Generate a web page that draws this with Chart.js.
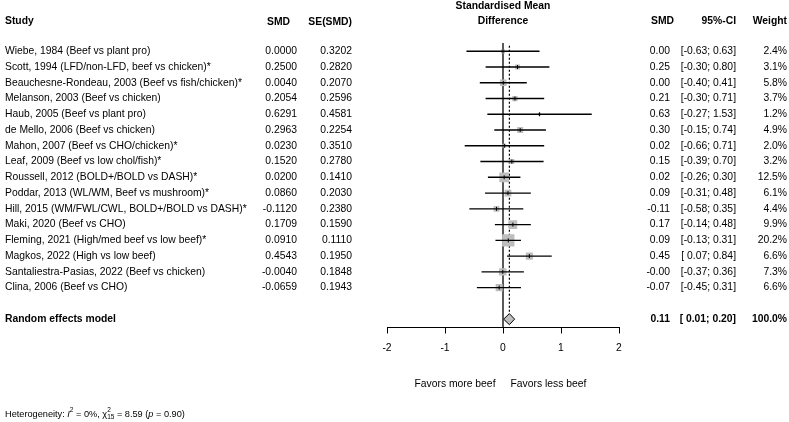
<!DOCTYPE html>
<html>
<head>
<meta charset="utf-8">
<script src="https://cdn.jsdelivr.net/npm/chart.js@4/dist/chart.umd.min.js"></script>
<style>
  html, body { margin: 0; padding: 0; background: #fff; }
  canvas { display: block; }
</style>
</head>
<body>
<canvas id="forest" width="789" height="422" style="width:789px;height:422px"></canvas>
<script>
// study data
const studies = [
  "Wiebe, 1984 (Beef vs plant pro)",
  "Scott, 1994 (LFD/non-LFD, beef vs chicken)*",
  "Beauchesne-Rondeau, 2003 (Beef vs fish/chicken)*",
  "Melanson, 2003 (Beef vs chicken)",
  "Haub, 2005 (Beef vs plant pro)",
  "de Mello, 2006 (Beef vs chicken)",
  "Mahon, 2007 (Beef vs CHO/chicken)*",
  "Leaf, 2009 (Beef vs low chol/fish)*",
  "Roussell, 2012 (BOLD+/BOLD vs DASH)*",
  "Poddar, 2013 (WL/WM, Beef vs mushroom)*",
  "Hill, 2015 (WM/FWL/CWL, BOLD+/BOLD vs DASH)*",
  "Maki, 2020 (Beef vs CHO)",
  "Fleming, 2021 (High/med beef vs low beef)*",
  "Magkos, 2022 (High vs low beef)",
  "Santaliestra-Pasias, 2022 (Beef vs chicken)",
  "Clina, 2006 (Beef vs CHO)"
];
const smd = [0.0000, 0.2500, 0.0040, 0.2054, 0.6291, 0.2963, 0.0230, 0.1520,
             0.0200, 0.0860, -0.1120, 0.1709, 0.0910, 0.4543, -0.0040, -0.0659];
const seSmd = [0.3202, 0.2820, 0.2070, 0.2596, 0.4581, 0.2254, 0.3510, 0.2780,
               0.1410, 0.2030, 0.2380, 0.1590, 0.1110, 0.1950, 0.1848, 0.1943];
const ciLower = [-0.63, -0.30, -0.40, -0.30, -0.27, -0.15, -0.66, -0.39,
                 -0.26, -0.31, -0.58, -0.14, -0.13, 0.07, -0.37, -0.45];
const ciUpper = [0.63, 0.80, 0.41, 0.71, 1.53, 0.74, 0.71, 0.70,
                 0.30, 0.48, 0.35, 0.48, 0.31, 0.84, 0.36, 0.31];
const weights = [2.4, 3.1, 5.8, 3.7, 1.2, 4.9, 2.0, 3.2,
                 12.5, 6.1, 4.4, 9.9, 20.2, 6.6, 7.3, 6.6];

const pooledLabel = "Random effects model";
const pooledSmd = 0.11;
const pooledLower = 0.01;
const pooledUpper = 0.20;
const pooledWeight = 100.0;

const xTicks = [-2, -1, 0, 1, 2];
const favorLabels = ["Favors more beef", "Favors less beef"];

const rows = studies.map((s, i) => i + 1);
const pooledRow = studies.length + 2;

const FONT = "'Liberation Sans', Arial, sans-serif";
const FS = 10.35;

const fmtCI = (lo, hi) => "[" + (lo >= 0 ? " " : "") + lo.toFixed(2) + "; " + hi.toFixed(2) + "]";

// one line per confidence interval
const ciSets = studies.map((s, i) => ({
  data: [{ x: ciLower[i], y: rows[i] }, { x: ciUpper[i], y: rows[i] }],
  showLine: true,
  borderColor: "#000",
  borderWidth: 1.4,
  pointRadius: 0,
  order: 1
}));

const datasets = [
  ...ciSets,
  {
    // point estimate tick
    data: smd.map((v, i) => ({ x: v, y: rows[i] })),
    pointStyle: "line",
    rotation: 90,
    pointRadius: 2,
    borderColor: "#000",
    borderWidth: 1,
    order: 0
  },
  {
    // weighted squares
    data: smd.map((v, i) => ({ x: v, y: rows[i] })),
    pointStyle: "rect",
    pointRadius: weights.map(w => 1.94 * Math.sqrt(w)),
    backgroundColor: "#bebebe",
    borderWidth: 0,
    order: 2
  },
  {
    // line of no effect
    data: [{ x: 0, y: 0.48 }, { x: 0, y: 18.53 }],
    showLine: true,
    borderColor: "#000",
    borderWidth: 1.3,
    pointRadius: 0,
    order: 3
  },
  {
    // pooled estimate, dotted
    data: [{ x: pooledSmd, y: 0.65 }, { x: pooledSmd, y: pooledRow - 0.35 }],
    showLine: true,
    borderColor: "#000",
    borderWidth: 1.2,
    borderDash: [2, 2],
    pointRadius: 0,
    order: 3
  },
  {
    // pooled diamond
    data: [
      { x: pooledLower, y: pooledRow },
      { x: pooledSmd, y: pooledRow - 0.35 },
      { x: pooledUpper, y: pooledRow },
      { x: pooledSmd, y: pooledRow + 0.35 },
      { x: pooledLower, y: pooledRow }
    ],
    showLine: true,
    fill: "shape",
    backgroundColor: "#bebebe",
    borderColor: "#000",
    borderWidth: 1,
    pointRadius: 0,
    tension: 0,
    order: 0
  }
];

const tablePlugin = {
  id: "table",
  afterDraw(chart) {
    const { ctx, scales: { x, y } } = chart;
    ctx.save();
    ctx.fillStyle = "#000";
    ctx.textBaseline = "middle";
    const txt = (s, px, py, align, bold, size) => {
      ctx.font = (bold ? "bold " : "") + (size || FS) + "px " + FONT;
      ctx.textAlign = align || "left";
      ctx.fillText(s, px, py);
    };

    // headers
    txt("Standardised Mean", x.getPixelForValue(0), 6, "center", true);
    txt("Difference", x.getPixelForValue(0), 21, "center", true);
    txt("Study", 5, 21, "left", true);
    txt("SMD", 290, 22, "right", true);
    txt("SE(SMD)", 352, 22, "right", true);
    txt("SMD", 674, 21, "right", true);
    txt("95%-CI", 736, 21, "right", true);
    txt("Weight", 787, 21, "right", true);

    studies.forEach((s, i) => {
      const py = y.getPixelForValue(rows[i]);
      txt(s, 5, py);
      txt(smd[i].toFixed(4), 297, py, "right");
      txt(seSmd[i].toFixed(4), 352, py, "right");
      txt(smd[i].toFixed(2), 670, py, "right");
      txt(fmtCI(ciLower[i], ciUpper[i]), 736, py, "right");
      txt(weights[i].toFixed(1) + "%", 787, py, "right");
    });

    const pp = y.getPixelForValue(pooledRow);
    txt(pooledLabel, 5, pp, "left", true);
    txt(pooledSmd.toFixed(2), 670, pp, "right", true);
    txt(fmtCI(pooledLower, pooledUpper), 736, pp, "right", true);
    txt(pooledWeight.toFixed(1) + "%", 787, pp, "right", true);

    const x0 = x.getPixelForValue(0);
    txt(favorLabels[0], x0 - 7.5, 384, "right");
    txt(favorLabels[1], x0 + 7.5, 384, "left");

    // heterogeneity line
    let cx = 5;
    const hy = 414;
    const part = (s, style, dy, size) => {
      ctx.font = (style || "") + " " + (size || 9.2) + "px " + FONT;
      ctx.textAlign = "left";
      ctx.fillText(s, cx, hy + (dy || 0));
      cx += ctx.measureText(s).width;
    };
    part("Heterogeneity: ");
    part("I", "italic");
    part("2", "", -3.5, 6.5);
    part(" = 0%, ");
    part("\u03c7", "");
    const cs = cx;
    part("2", "", -3.5, 6.5);
    cx = cs;
    part("15", "", 3, 6.5);
    part(" = 8.59 (");
    part("p", "italic");
    part(" = 0.90)");
    ctx.restore();
  }
};

new Chart(document.getElementById("forest"), {
  type: "scatter",
  data: { datasets },
  plugins: [tablePlugin],
  options: {
    responsive: false,
    animation: false,
    devicePixelRatio: 1,
    layout: { padding: { left: 387, right: 170, top: 35.5, bottom: 0 } },
    plugins: { legend: { display: false }, tooltip: { enabled: false } },
    scales: {
      x: {
        type: "linear",
        min: xTicks[0],
        max: xTicks[xTicks.length - 1],
        afterFit: scale => { scale.height = 94.5; },
        afterBuildTicks: scale => { scale.ticks = xTicks.map(v => ({ value: v })); },
        ticks: {
          color: "#000",
          font: { family: FONT, size: FS },
          padding: 8,
          maxRotation: 0
        },
        grid: { drawOnChartArea: false, drawTicks: true, tickLength: 6, color: "#000", lineWidth: 1 },
        border: { display: true, color: "#000", width: 1 }
      },
      y: {
        type: "linear",
        display: false,
        reverse: true,
        min: 0,
        max: 18.53
      }
    }
  }
});
</script>
</body>
</html>
